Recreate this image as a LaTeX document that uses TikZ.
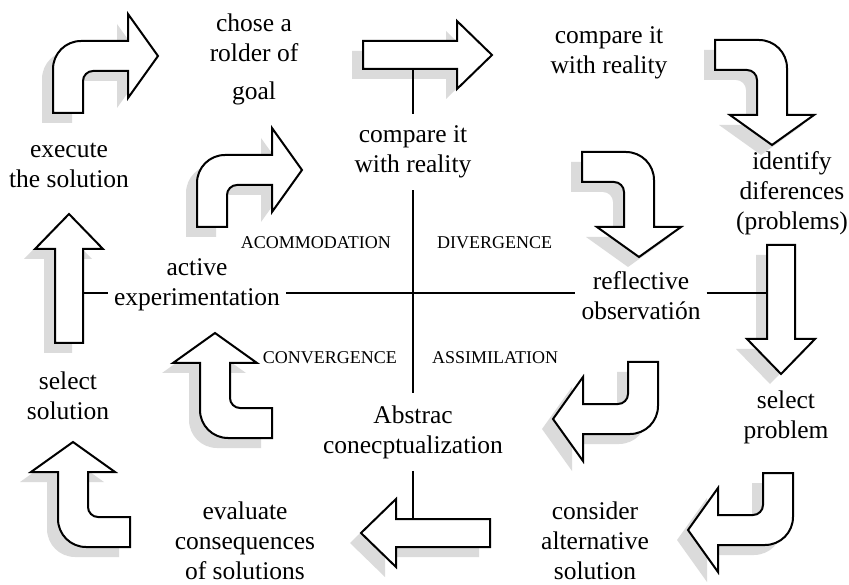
\documentclass[tikz,border=0pt]{standalone}
\usepackage{fontspec}
\setmainfont{Liberation Serif}
\usetikzlibrary{positioning}

% outlines of the block arrows (y runs down)
\newcommand{\bentpath}{(0,0) -- (0,-44) .. controls (0,-59.5) and (12.5,-72) .. (28,-72) -- (75,-72) -- (75,-99) -- (105,-57) -- (75,-15) -- (75,-42) -- (40,-42) .. controls (34.5,-42) and (30,-37.5) .. (30,-32) -- (30,0) -- cycle}
\newcommand{\straightpath}{(0,-14) -- (94,-14) -- (94,-34) -- (129,0) -- (94,34) -- (94,14) -- (0,14) -- cycle}

\begin{document}
\begin{tikzpicture}[x=1pt, y=-1pt,
                    main/.style = {align=center, font=\fontsize{25.5}{30}\selectfont, inner xsep=6pt, inner ysep=12pt},
                    quad/.style = {font=\fontsize{18}{20}\selectfont, inner sep=6pt},
                    shad/.style = {fill=black!14},
                    arr/.style = {fill=white, draw=black, line width=2pt, line join=miter},
                    bent/.pic = {\fill[shad, shift={(-11,10)}, rotate=#1] \bentpath;
                                 \path[arr, rotate=#1] \bentpath;},
                    straight/.pic = {\fill[shad, shift={(-11,10)}, rotate=#1] \straightpath;
                                     \path[arr, rotate=#1] \straightpath;}]
\useasboundingbox (0,0) rectangle (849,585);
% block arrows round the cycle
\pic at (53,113) {bent=0};
\pic at (197,227) {bent=0};
\pic at (715,40) {bent=-90};
\pic at (582,152) {bent=-90};
\pic at (658,362) {bent=180};
\pic at (793,473) {bent=180};
\pic at (272,438) {bent=90};
\pic at (130,547) {bent=90};
\pic at (363,55) {straight=0};
\pic at (781,245) {straight=-90};
\pic at (490,533) {straight=180};
\pic at (69,343) {straight=90};
% texts
\node[main] (goal) at (254,59) {chose a\\rolder of\\[8pt]goal};
\node[main] (cmp1) at (609,53) {compare it\\with reality};
\node[main] (cmp2) at (413,152) {compare it\\with reality};
\node[main] (exec) at (69,165) {execute\\the solution};
\node[main] (ident) at (792,193) {identify\\diferences\\(problems)};
\node[main] (active) at (197,285) {active\\experimentation};
\node[main] (reflect) at (641,296) {reflective\\observatión};
\node[main] (selsol) at (68,396) {select\\solution};
\node[main] (abstr) at (413,432) {Abstrac\\conecptualization};
\node[main] (selprob) at (786,417) {select\\problem};
\node[main] (evalc) at (245,541) {evaluate\\consequences\\of solutions};
\node[main] (consid) at (595,541) {consider\\alternative\\solution};
% quadrants
\coordinate (mid) at (413,293);
\node[quad, above left=38pt and 16pt of mid] (acom) {ACOMMODATION};
\node[quad, above right=38pt and 18pt of mid] (diverg) {DIVERGENCE};
\node[quad, below left=52pt and 10pt of mid] (conver) {CONVERGENCE};
\node[quad, below right=52pt and 13pt of mid] (assim) {ASSIMILATION};
% the cross
\coordinate (t) at (413,69);
\coordinate (b) at (413,519);
\coordinate (l) at (83,293);
\coordinate (r) at (767,293);
\path[line width=2.4pt]
(t) edge (cmp2)
(cmp2) edge (abstr)
(abstr) edge (b)
(l) edge (l -| active.west)
(l -| active.east) edge (r -| reflect.west)
(r -| reflect.east) edge (r);
\end{tikzpicture}
\end{document}
